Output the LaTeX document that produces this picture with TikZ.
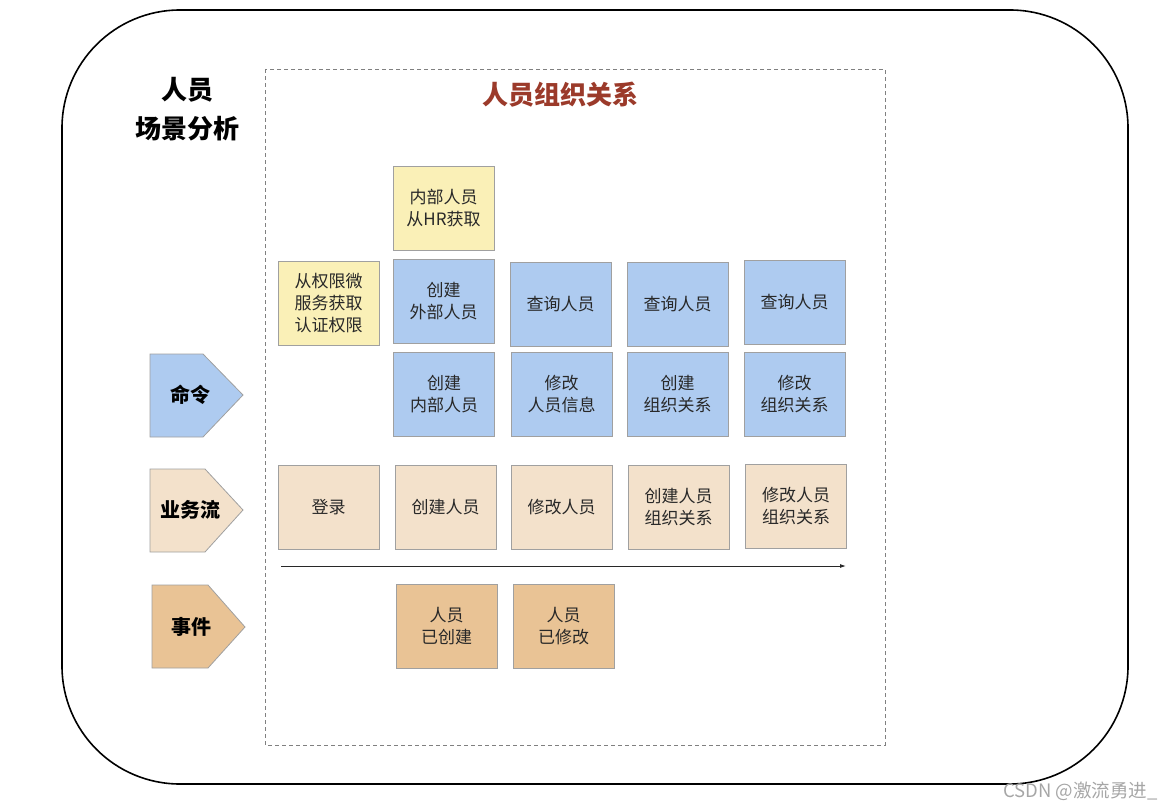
\documentclass[tikz,border=0pt]{standalone}
\usepackage{fontspec}
\setmainfont{Noto Sans CJK SC}
\usetikzlibrary{arrows.meta}
\definecolor{scenecmd}{RGB}{174,203,240}
\definecolor{sceneinfo}{RGB}{250,240,183}
\definecolor{sceneflow}{RGB}{243,225,203}
\definecolor{sceneevent}{RGB}{233,195,149}
\definecolor{sceneedge}{RGB}{160,160,160}
\definecolor{scenedark}{RGB}{40,40,40}
\definecolor{scenetitle}{RGB}{155,58,42}
\tikzset{
  scene box/.style={
    draw=sceneedge,
    line width=0.8pt,
    minimum width=101pt,
    minimum height=84pt,
    inner sep=2pt,
    align=center,
    text=scenedark,
    font=\fontsize{17}{22}\selectfont,
  },
  scene tag/.style={
    draw=sceneedge,
    line width=0.8pt,
  },
  scene label/.style={
    inner sep=0pt,
    text=black,
    font=\bfseries\fontsize{20}{24}\selectfont,
  },
  scene arrow/.style={
    -{Latex[length=6pt,width=4pt]},
    line width=0.9pt,
    draw=scenedark,
  },
}

\begin{document}
\begin{tikzpicture}[x=1pt,y=-1pt]
  \useasboundingbox (0,0) rectangle (1172,808);
  % frame and lane
  \draw[line width=1.6pt, rounded corners=118pt] (62,10) rectangle (1128,784);
  \draw[sceneedge!80!black, line width=0.8pt, dash pattern=on 4pt off 3pt] (265,69) rectangle (885,745);
  \node[align=center, font=\bfseries\fontsize{26}{39}\selectfont] (h) at (187,109) {人员\\场景分析};
  \node[text=scenetitle, font=\bfseries\fontsize{26}{30}\selectfont] (t) at (560,95) {人员组织关系};

  % row tags
  \draw[scene tag, fill=scenecmd] (150,354) -- (203,354) -- (243,395) -- (203,437) -- (150,437) -- cycle;
  \node[scene label] (cmd) at (190,395) {命令};
  \draw[scene tag, fill=sceneflow] (150,469) -- (205,469) -- (243,510) -- (205,552) -- (150,552) -- cycle;
  \node[scene label] (flow) at (190,510) {业务流};
  \draw[scene tag, fill=sceneevent] (152,585) -- (208,585) -- (245,627) -- (208,668) -- (152,668) -- cycle;
  \node[scene label] (evt) at (191,627) {事件};

  % info
  \node[scene box, fill=sceneinfo] (i1) at (443.5,208) {内部人员\\从HR获取};
  \node[scene box, fill=sceneinfo] (i2) at (328.5,303.5) {从权限微\\服务获取\\认证权限};

  % commands
  \node[scene box, fill=scenecmd] (c1) at (443.5,301.5) {创建\\外部人员};
  \node[scene box, fill=scenecmd] (c2) at (560.5,304) {查询人员};
  \node[scene box, fill=scenecmd] (c3) at (677.5,304) {查询人员};
  \node[scene box, fill=scenecmd] (c4) at (794.5,302) {查询人员};
  \node[scene box, fill=scenecmd] (c5) at (444,394) {创建\\内部人员};
  \node[scene box, fill=scenecmd] (c6) at (561.5,394) {修改\\人员信息};
  \node[scene box, fill=scenecmd] (c7) at (677.5,394) {创建\\组织关系};
  \node[scene box, fill=scenecmd] (c8) at (794.5,394) {修改\\组织关系};

  % business flow
  \node[scene box, fill=sceneflow] (f1) at (328.5,507.5) {登录};
  \node[scene box, fill=sceneflow] (f2) at (445.5,507.5) {创建人员};
  \node[scene box, fill=sceneflow] (f3) at (561.5,507.5) {修改人员};
  \node[scene box, fill=sceneflow] (f4) at (678.5,507) {创建人员\\组织关系};
  \node[scene box, fill=sceneflow] (f5) at (796,506) {修改人员\\组织关系};
  \coordinate (ts) at (281,566);
  \coordinate (te) at (846,566);
  \draw[scene arrow] (ts) -- (te);

  % events
  \node[scene box, fill=sceneevent] (e1) at (446.5,626) {人员\\已创建};
  \node[scene box, fill=sceneevent] (e2) at (563.5,626) {人员\\已修改};

  \node[text=black!35, font=\fontsize{18.5}{22}\selectfont, anchor=east, inner sep=0pt] (w) at (1158,791) {CSDN @激流勇进\_};
\end{tikzpicture}
\end{document}
